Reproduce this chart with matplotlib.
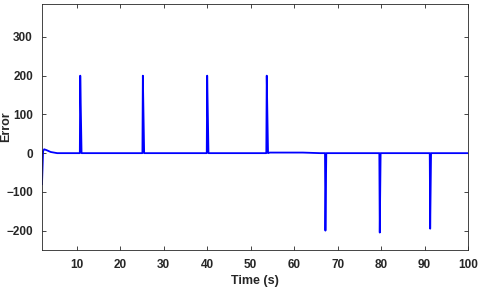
import matplotlib
matplotlib.use("Agg")
import matplotlib.pyplot as plt

# key points of the error trace
time_pts = [2.0, 2.25, 2.5, 3.0, 4.0, 5.5,
            10.7, 10.8, 11.1,
            25.1, 25.2, 25.5,
            39.9, 40.0, 40.3,
            53.6, 53.7, 54.0, 54.4, 62.0, 66.0, 67.1,
            67.2, 67.4,
            79.6, 79.7, 79.9,
            91.2, 91.3, 91.5,
            100.0]
error_pts = [-80, 5, 10, 8, 3, 0,
             0, 200, 0,
             0, 200, 0,
             0, 200, 0,
             0, 200, 0, 1.5, 1.5, 0, 0,
             -200, 0,
             0, -205, 0,
             0, -195, 0,
             0]

xticks = [10, 20, 30, 40, 50, 60, 70, 80, 90, 100]
yticks = [-200, -100, 0, 100, 200, 300]

plt.rcParams['font.family'] = ['Liberation Sans', 'DejaVu Sans']

fig = plt.figure(figsize=(4.8, 2.89), dpi=100)
ax = fig.add_axes([42 / 480, 1 - 250 / 289, 426 / 480, 246 / 289])

ax.plot(time_pts, error_pts, color='#0000ff', lw=1.3)

ax.set_xlim(2, 100)
ax.set_ylim(-250, 385)
ax.set_xticks(xticks)
ax.set_yticks(yticks)
ax.tick_params(direction='in', top=True, right=True, length=3, width=0.6,
               labelsize=8.5, colors='#262626', pad=6.5)
for lab in ax.get_xticklabels() + ax.get_yticklabels():
    lab.set_fontweight('bold')
for s in ax.spines.values():
    s.set_linewidth(0.6)
    s.set_color('#262626')

ax.set_xlabel('Time (s)', fontsize=9, fontweight='bold', color='#262626', labelpad=3)
ax.set_ylabel('Error', fontsize=9, fontweight='bold', color='#262626')
ax.yaxis.set_label_coords(-0.069, 0.5)

fig.savefig('out.png', dpi=100)
